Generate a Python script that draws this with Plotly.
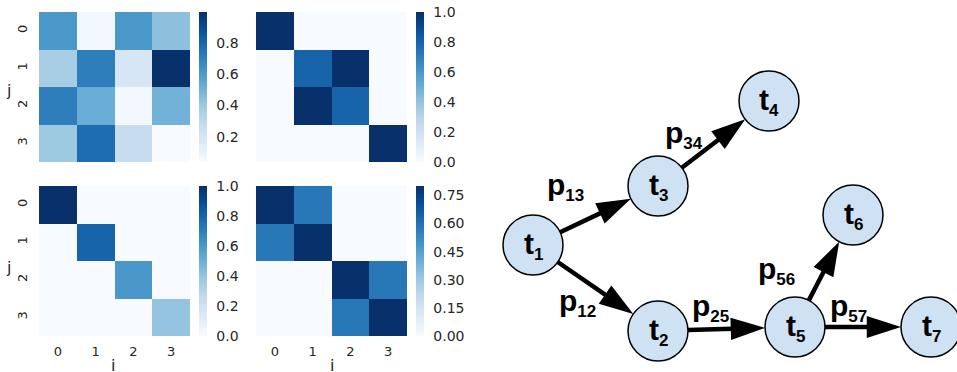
import numpy as np
import plotly.graph_objects as go

W, H = 957, 372

# ---------------- heatmap data ----------------
idx = [0, 1, 2, 3]
tick_labels = ["0", "1", "2", "3"]

m_top_left = [[0.61, 0.06, 0.61, 0.44],
              [0.37, 0.71, 0.20, 0.995],
              [0.71, 0.52, 0.06, 0.50],
              [0.40, 0.77, 0.27, 0.04]]
m_top_right = [[1.0, 0.0, 0.0, 0.0],
               [0.0, 0.8, 1.0, 0.0],
               [0.0, 1.0, 0.8, 0.0],
               [0.0, 0.0, 0.0, 1.0]]
m_bot_left = [[1.0, 0.0, 0.0, 0.0],
              [0.0, 0.8, 0.0, 0.0],
              [0.0, 0.0, 0.6, 0.0],
              [0.0, 0.0, 0.0, 0.4]]
m_bot_right = [[0.80, 0.58, 0.0, 0.0],
               [0.58, 0.80, 0.0, 0.0],
               [0.0, 0.0, 0.80, 0.58],
               [0.0, 0.0, 0.58, 0.80]]

cb_ticks_tl = [0.2, 0.4, 0.6, 0.8]
cb_ticks_01 = [0.0, 0.2, 0.4, 0.6, 0.8, 1.0]
cb_ticks_br = [0.0, 0.15, 0.30, 0.45, 0.60, 0.75]

# ---------------- graph data ----------------
node_names = ["1", "2", "3", "4", "5", "6", "7"]
node_x = [533, 658, 658, 769, 795, 853, 931]
node_y = [245, 331, 186, 101, 327, 215, 327]
edges = [("1", "3"), ("1", "2"), ("3", "4"), ("2", "5"), ("5", "6"), ("5", "7")]
edge_label_x = [565, 577, 684, 710, 776, 848]
edge_label_y = [186, 302, 134, 307, 270, 307]

blues = ["#f7fbff", "#deebf7", "#c6dbef", "#9ecae1", "#6baed6",
         "#4292c6", "#2171b5", "#08519c", "#08306b"]
cscale = [[i / 8, c] for i, c in enumerate(blues)]

TXT = "#262626"
HM_FONT = dict(family="DejaVu Sans", size=13, color=TXT)

fig = go.Figure()

panels = [
    (m_top_left, (39, 12, 190, 162), 199, 0.04, 0.995, cb_ticks_tl, "{:.1f}", False, True),
    (m_top_right, (256, 12, 407, 162), 416, 0.0, 1.0, cb_ticks_01, "{:.1f}", False, False),
    (m_bot_left, (39, 186, 190, 336), 199, 0.0, 1.0, cb_ticks_01, "{:.1f}", True, True),
    (m_bot_right, (256, 186, 407, 336), 416, 0.0, 0.80, cb_ticks_br, "{:.2f}", True, False),
]

for k, (m, (l, t, r, b), cbx, zmin, zmax, ticks, fmt, showx, showy) in enumerate(panels, start=1):
    xa = "x" if k == 1 else f"x{k}"
    ya = "y" if k == 1 else f"y{k}"
    fig.add_trace(go.Heatmap(
        z=m, x=idx, y=idx, xaxis=xa, yaxis=ya,
        colorscale=cscale, zmin=zmin, zmax=zmax,
        hoverinfo="skip",
        colorbar=dict(
            x=cbx / W, xanchor="left", xpad=0, xref="paper",
            y=1 - t / H, yanchor="top", ypad=0, yref="paper",
            len=b - t, lenmode="pixels", thickness=8, thicknessmode="pixels",
            outlinewidth=0, tickvals=ticks, ticktext=[fmt.format(v) for v in ticks],
            ticks="outside", ticklen=7, tickcolor="rgba(0,0,0,0)",
            tickfont=dict(family="DejaVu Sans", size=14, color=TXT),
        ),
    ))
    axkey = "xaxis" if k == 1 else f"xaxis{k}"
    aykey = "yaxis" if k == 1 else f"yaxis{k}"
    fig.update_layout(**{
        axkey: dict(domain=[l / W, r / W], range=[-0.5, 3.5], anchor=ya,
                    showgrid=False, zeroline=False, showline=False,
                    tickvals=idx, ticktext=tick_labels, showticklabels=showx,
                    ticks="outside", ticklen=3, tickcolor="rgba(0,0,0,0)",
                    tickfont=HM_FONT, fixedrange=True, automargin=False),
        aykey: dict(domain=[1 - b / H, 1 - t / H], range=[3.5, -0.5], anchor=xa,
                    showgrid=False, zeroline=False, showline=False,
                    tickvals=idx, ticktext=tick_labels, showticklabels=showy,
                    tickangle=-90,
                    ticks="outside", ticklen=6, tickcolor="rgba(0,0,0,0)",
                    tickfont=HM_FONT, fixedrange=True, automargin=False),
    })

# graph axes on the right side: 1 unit = 1 pixel
GX0 = 460
fig.update_layout(
    xaxis5=dict(domain=[GX0 / W, 1], range=[GX0, W], visible=False, anchor="y5",
                fixedrange=True, automargin=False),
    yaxis5=dict(domain=[0, 1], range=[H, 0], visible=False, anchor="x5",
                fixedrange=True, automargin=False),
)

R = 30
pos = {n: (x, y) for n, x, y in zip(node_names, node_x, node_y)}
for (s, d) in edges:
    sx, sy = pos[s]
    dx, dy = pos[d]
    vx, vy = dx - sx, dy - sy
    L = (vx ** 2 + vy ** 2) ** 0.5
    ux, uy = vx / L, vy / L
    fig.add_trace(go.Scatter(
        x=[sx + R * ux, dx - R * ux], y=[sy + R * uy, dy - R * uy],
        xaxis="x5", yaxis="y5", mode="lines+markers", cliponaxis=False,
        line=dict(color="black", width=4.5),
        marker=dict(symbol="arrow", size=[0, 36], angleref="previous",
                    color="black", opacity=1, line=dict(width=0, color="black")),
        hoverinfo="skip", showlegend=False,
    ))

fig.add_trace(go.Scatter(
    x=node_x, y=node_y, xaxis="x5", yaxis="y5", mode="markers", cliponaxis=False,
    marker=dict(size=2 * R, color="#cfe2f3", opacity=1, line=dict(color="black", width=1.5)),
    hoverinfo="skip", showlegend=False,
))

ann = []
GFONT = dict(family="Liberation Sans", size=30, color="black")
for n, x, y in zip(node_names, node_x, node_y):
    ann.append(dict(
        x=x, y=y, xref="x5", yref="y5", showarrow=False,
        text=f'<b>t<sub><span style="font-size:17px">{n}</span></sub></b>',
        font=GFONT, xanchor="center", yanchor="middle",
    ))
for (s, d), x, y in zip(edges, edge_label_x, edge_label_y):
    ann.append(dict(
        x=x, y=y, xref="x5", yref="y5", showarrow=False,
        text=f'<b>p<sub><span style="font-size:17px">{s}{d}</span></sub></b>',
        font=GFONT, xanchor="center", yanchor="middle",
    ))

for yy in (90, 267):
    ann.append(dict(x=8 / W, y=1 - yy / H, xref="paper", yref="paper", showarrow=False,
                    text="j", font=dict(family="DejaVu Sans", size=16, color=TXT),
                    xanchor="center", yanchor="middle"))
for xx in (113, 332):
    ann.append(dict(x=xx / W, y=1 - 365 / H, xref="paper", yref="paper", showarrow=False,
                    text="i", font=dict(family="DejaVu Sans", size=16, color=TXT),
                    xanchor="center", yanchor="middle"))

fig.update_layout(
    width=W, height=H, margin=dict(l=0, r=0, t=0, b=0, autoexpand=False),
    paper_bgcolor="white", plot_bgcolor="rgba(0,0,0,0)",
    showlegend=False, annotations=ann,
)

fig.write_html("out.html", config={"displayModeBar": False},
               post_script="document.body.style.margin='0';document.body.style.overflow='hidden';")
